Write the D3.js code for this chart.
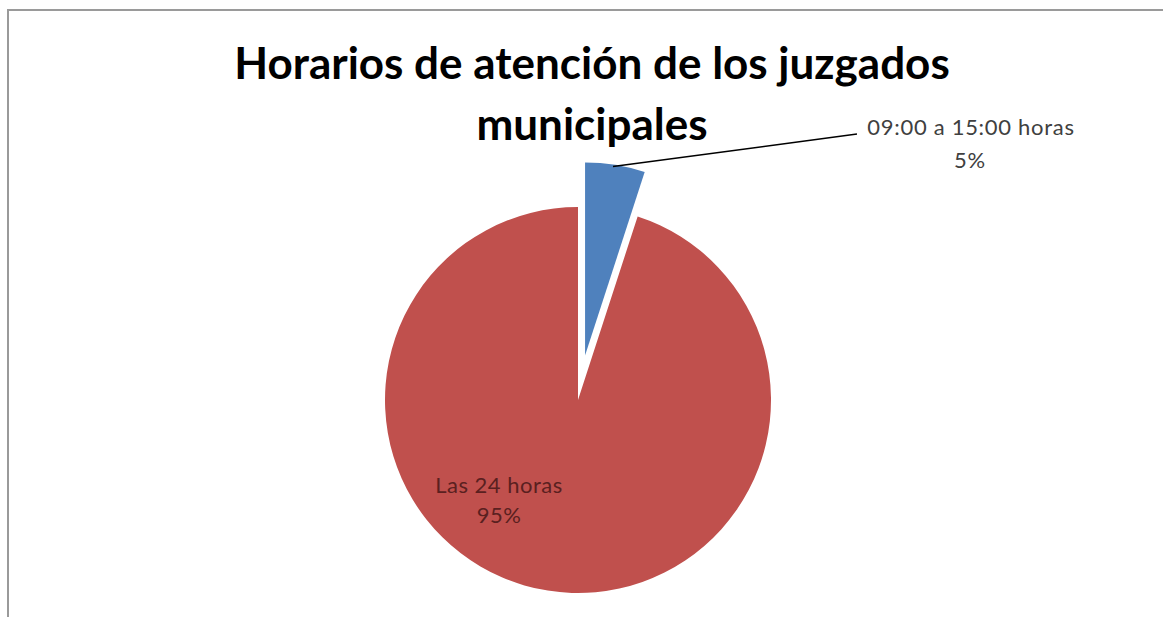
<!DOCTYPE html>
<html>
<head>
<meta charset="utf-8">
<script src="https://cdn.jsdelivr.net/npm/d3@7"></script>
<style>
  body { margin: 0; background: #fff; }
  svg { display: block; }
</style>
</head>
<body>
<div id="chart"></div>
<script>
// data
const categories = ["09:00 a 15:00 horas", "Las 24 horas"];
const values = [5, 95];
const titleLines = ["Horarios de atención de los juzgados", "municipales"];

const width = 1163, height = 617;
const cx = 578, cy = 400, radius = 193;
const explode = 45;

const colors = d3.scaleOrdinal()
    .domain(categories)
    .range(["#4F81BD", "#C0504D"]);

const svg = d3.select("#chart")
    .append("svg")
    .attr("width", width)
    .attr("height", height);

// chart frame
svg.append("rect")
    .attr("x", 8).attr("y", 10)
    .attr("width", 1160).attr("height", 640)
    .attr("fill", "#fff")
    .attr("stroke", "#9a9a9a")
    .attr("stroke-width", 2);

// title
svg.append("text")
    .attr("text-anchor", "middle")
    .attr("font-family", "Lato, 'Open Sans', sans-serif")
    .attr("font-weight", "bold")
    .attr("font-size", 44)
    .attr("fill", "#000")
    .selectAll("tspan")
    .data(titleLines)
    .join("tspan")
    .attr("x", 592)
    .attr("y", (d, i) => 79 + i * 61)
    .text(d => d);

const pie = d3.pie().sort(null).value(d => d.value);
const data_ready = pie(categories.map((c, i) => ({ name: c, value: values[i] })));

const arc = d3.arc().innerRadius(0).outerRadius(radius);

// offset of a slice: only the small one is pulled out
function offset(d, i) {
    const dist = i === 0 ? explode : 0;
    const mid = (d.startAngle + d.endAngle) / 2;
    return [dist * Math.sin(mid), -dist * Math.cos(mid)];
}

const g = svg.append("g").attr("transform", `translate(${cx},${cy})`);

g.selectAll("path.slice")
    .data(data_ready)
    .join("path")
    .attr("class", "slice")
    .attr("d", arc)
    .attr("transform", (d, i) => `translate(${offset(d, i)})`)
    .attr("fill", d => colors(d.data.name));

// small slice label with leader line
const small = data_ready[0];
const so = offset(small, 0);
const sMid = (small.startAngle + small.endAngle) / 2 - 0.01;
const p0 = [so[0] + (radius - 2) * Math.sin(sMid), so[1] - (radius - 2) * Math.cos(sMid)];
const p1 = [279, -266];

g.append("polyline")
    .attr("points", [p0, p1].join(" "))
    .attr("fill", "none")
    .attr("stroke", "#000")
    .attr("stroke-width", 1.5);

const fontLbl = "Lato, 'Open Sans', sans-serif";
const lblSmall = g.append("text")
    .attr("text-anchor", "middle")
    .attr("font-family", fontLbl)
    .attr("font-size", 22)
    .attr("letter-spacing", 0.7)
    .attr("fill", "#404040");
lblSmall.append("tspan").attr("x", 393).attr("y", -265).text(small.data.name);
lblSmall.append("tspan").attr("x", 392).attr("y", -232).text(d3.format(".0%")(small.value / 100));

// big slice label inside
const big = data_ready[1];
const lbl = g.append("text")
    .attr("text-anchor", "middle")
    .attr("font-family", fontLbl)
    .attr("font-size", 22)
    .attr("letter-spacing", 0.5)
    .attr("fill", "#5a2020");
lbl.append("tspan").attr("x", -79).attr("y", 93).text(big.data.name);
lbl.append("tspan").attr("x", -79).attr("y", 123).text(d3.format(".0%")(big.value / 100));
</script>
</body>
</html>
